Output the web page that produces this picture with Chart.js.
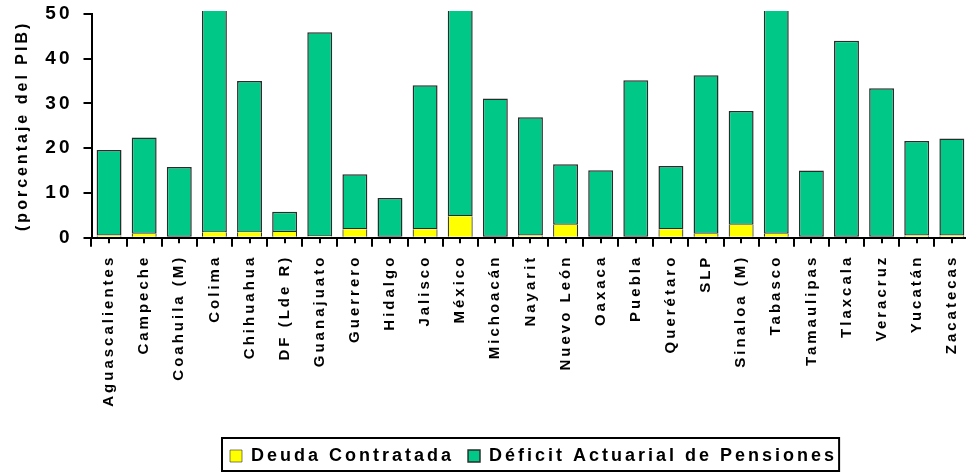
<!DOCTYPE html>
<html><head><meta charset="utf-8">
<script src="https://cdn.jsdelivr.net/npm/chart.js@4.4.1/dist/chart.umd.min.js"></script>
<style>html,body{margin:0;padding:0;background:#fff;overflow:hidden;width:966px;height:473px}canvas{display:block}</style>
</head><body>
<canvas id="c" width="970" height="473" style="width:970px;height:473px"></canvas>
<script>
const categories = ["Aguascalientes","Campeche","Coahuila (M)","Colima","Chihuahua","DF (Lde R)","Guanajuato","Guerrero","Hidalgo","Jalisco","México","Michoacán","Nayarit","Nuevo León","Oaxaca","Puebla","Querétaro","SLP","Sinaloa (M)","Tabasco","Tamaulipas","Tlaxcala","Veracruz","Yucatán","Zacatecas"];
const deudaContratada = [0.5,0.9,0.2,1.2,1.2,1.3,0.3,1.9,0,1.9,4.8,0,0.5,2.9,0.2,0,1.9,0.9,2.9,0.9,0,0,0,0.5,0.5];
const deficitActuarial = [19.1,21.5,15.6,53.8,33.8,4.5,45.6,12.3,8.9,32.2,50.2,31.1,26.4,13.5,14.9,35.2,14.1,35.4,25.4,54.1,15.0,44.0,33.4,21.1,21.7];
const yTicks = [0,10,20,30,40,50];
const seriesNames = ["Deuda Contratada","Déficit Actuarial de Pensiones"];
const yTitle = "(porcentaje del PIB)";

const FONT = "'Liberation Sans', Arial, sans-serif";
Chart.defaults.font.family = FONT;
Chart.defaults.color = '#000';
const SPACING = '3px';
const PLOT_BOTTOM = 237.7;

const tweaks = {
  id: 'tweaks',
  beforeUpdate(chart){ chart.ctx.letterSpacing = SPACING; },
  beforeDraw(chart){ chart.ctx.letterSpacing = SPACING; },
  afterLayout(chart){
    const lg = chart.legend;
    const h = lg.height;
    const pad = lg.options.labels.padding;
    lg.left = chart.chartArea.left + 138.5 - pad;
    lg.right = lg.left + 800;
    lg.top = 447 - pad;
    lg.bottom = lg.top + h;
  },
  afterDraw(chart){
    const lg = chart.legend;
    const pad = lg.options.labels.padding;
    const hb = lg.legendHitBoxes;
    let total = 0;
    hb.forEach((b,i)=>{ total += b.width + (i>0?pad:0); });
    const x0 = lg.left + pad - 8;
    const x1 = lg.left + pad + total + 2;
    const y0 = lg.top + pad - 9;
    const y1 = lg.top + pad + 24;
    const ctx = chart.ctx;
    ctx.save();
    ctx.strokeStyle = '#000';
    ctx.lineWidth = 2;
    ctx.strokeRect(x0, y0, x1 - x0, y1 - y0);
    ctx.restore();
  }
};

new Chart(document.getElementById('c'), {
  type: 'bar',
  data: {
    labels: categories,
    datasets: [
      { label: seriesNames[0], data: deudaContratada, xAxisID: 'x', yAxisID: 'y',
        backgroundColor: '#FFFF00', borderColor: '#2b2b2b',
        borderWidth: {top:0,left:1.2,right:1.2,bottom:0}, borderSkipped: false, clip: {left:false,right:false,top:3,bottom:false} },
      { label: seriesNames[1], data: deficitActuarial, xAxisID: 'x', yAxisID: 'y',
        backgroundColor: '#00C887', borderColor: '#2b2b2b',
        borderWidth: {top:1.5,left:1.5,right:1.5,bottom:1.2}, borderSkipped: false, clip: {left:false,right:false,top:3,bottom:false} }
    ]
  },
  options: {
    responsive: false,
    animation: false,
    devicePixelRatio: 1,
    layout: { padding: { left: 0, right: 0.6, top: 14, bottom: 0 } },
    datasets: { bar: { categoryPercentage: 1, barPercentage: 0.71 } },
    scales: {
      x: {
        stacked: true, offset: true,
        grid: { offset: true, drawOnChartArea: false, tickLength: 9, color: '#000', lineWidth: 2 },
        border: { display: true, color: '#000', width: 2 },
        ticks: { autoSkip: false, maxRotation: 90, minRotation: 90, padding: 8, color: '#000',
                 font: { size: 15, weight: 'bold' } },
        afterFit: s => { s.height = 473 - PLOT_BOTTOM - s.chart.legend.height; s.paddingLeft = 0; s.paddingRight = 0; }
      },
      x2: {
        type: 'category', labels: categories, position: 'bottom', offset: true, weight: -1,
        grid: { offset: false, drawOnChartArea: false, tickLength: 5.5, color: '#000', lineWidth: 2 },
        border: { display: false },
        ticks: { display: false },
        afterFit: s => { s.height = 0; s.paddingLeft = 0; s.paddingRight = 0; }
      },
      y: {
        stacked: true, min: 0, max: 50,
        afterBuildTicks: s => { s.ticks = yTicks.map(v => ({ value: v })); },
        grid: { drawOnChartArea: false, tickLength: 8, color: '#000', lineWidth: 2 },
        border: { display: true, color: '#000', width: 2 },
        ticks: { padding: 11, color: '#000', font: { size: 19, weight: 'bold' } },
        title: { display: true, text: yTitle, color: '#000', font: { size: 16, weight: 'bold' }, padding: { top: 13, bottom: 0 } },
        afterFit: s => { s.width = 91.5; s.paddingTop = 0; s.paddingBottom = 0; }
      }
    },
    plugins: {
      tooltip: { enabled: false },
      legend: {
        position: 'bottom', align: 'start',
        labels: { boxWidth: 12, boxHeight: 12, padding: 14, color: '#000', font: { size: 18, weight: 'bold' } }
      }
    }
  },
  plugins: [tweaks]
});
</script>
</body></html>
